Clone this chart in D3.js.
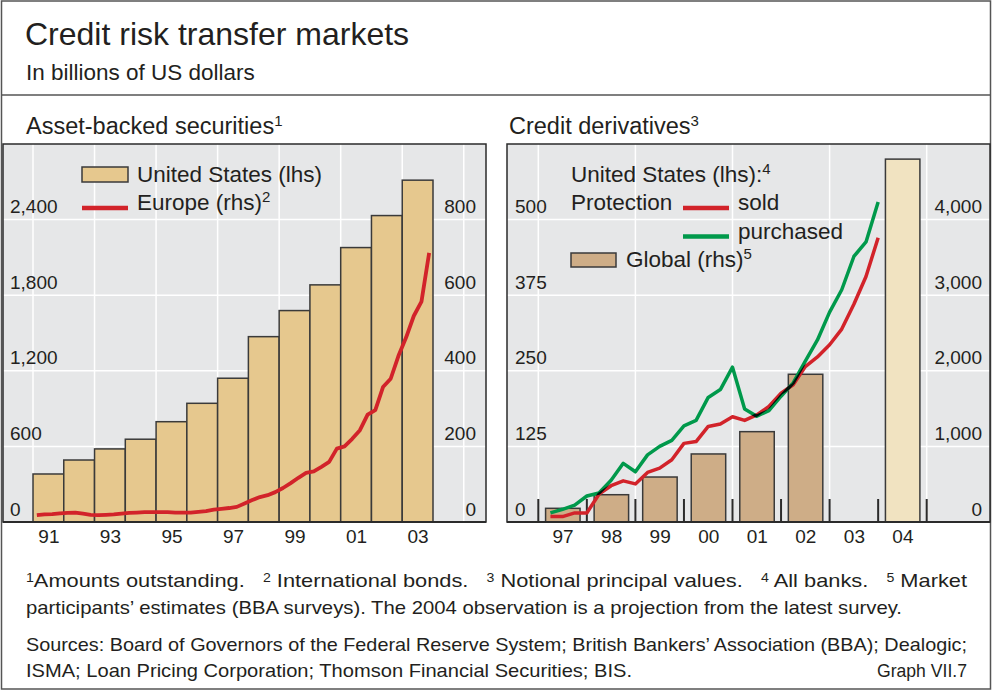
<!DOCTYPE html>
<html>
<head>
<meta charset="utf-8">
<script src="https://cdn.jsdelivr.net/npm/d3@7"></script>
<style>
  body { margin: 0; background: #fff; }
  svg text { font-family: "Liberation Sans", Arial, sans-serif; fill: #231f20; }
</style>
</head>
<body>
<script>
// ---- data (billions of US dollars) ----
const absYears = [1991, 1992, 1993, 1994, 1995, 1996, 1997, 1998, 1999, 2000, 2001, 2002, 2003]
const usAbs = [381, 492, 580, 657, 796, 942, 1141, 1471, 1678, 1882, 2178, 2432, 2713]

// Europe international bonds, quarterly from 1991 Q1 (rhs)
const europeStart = 1991
const europeAbs = [18, 20, 21, 23, 24, 25, 22, 19, 18, 19, 20, 22,
  24, 25, 26, 26, 26, 26, 25, 25, 25, 27, 29, 33,
  35, 37, 40, 49, 58, 66, 71, 79, 90, 103, 117, 130,
  134, 146, 159, 194, 200, 220, 243, 284, 296, 357, 379, 439,
  488, 545, 583, 712]

// credit derivatives, US protection, quarterly from 1997 Q1 (lhs)
const cdsStart = 1997
const cdsSold = [9, 9, 15, 15, 46, 60, 68, 63, 82, 89, 103, 130, 133, 158,
  162, 174, 168, 177, 191, 213, 227, 257, 273, 293, 319, 360, 406, 470]
const cdsPurchased = [15, 21, 28, 43, 48, 69, 97, 83, 111, 125, 135, 159, 168, 206,
  219, 256, 187, 175, 184, 208, 230, 266, 301, 347, 384, 439, 463, 529]

// global credit derivatives (rhs), 2004 is a projection
const globalYears = [1997, 1998, 1999, 2000, 2001, 2002, 2004]
const globalCds = [181, 361, 595, 900, 1195, 1954, 4800]

const absLeftTicks = [0, 600, 1200, 1800, 2400]
const absRightTicks = [0, 200, 400, 600, 800]
const absLabelYears = [1991, 1993, 1995, 1997, 1999, 2001, 2003]
const cdsLeftTicks = [0, 125, 250, 375, 500]
const cdsRightTicks = [0, 1000, 2000, 3000, 4000]
const cdsLabelYears = [1997, 1998, 1999, 2000, 2001, 2002, 2003, 2004]

const w = 993
const h = 691
const red = "#d2232a"
const green = "#00994b"
const grey = "#e6e7e8"
const dark = "#2b2b2b"
const tickSize = 19

const svg = d3.select("body").append("svg")
  .attr("width", w)
  .attr("height", h)

// outer frame and headings
svg.append("rect")
  .attr("x", 1.5).attr("y", 1)
  .attr("width", 989).attr("height", 688)
  .attr("fill", "none").attr("stroke", "#555").attr("stroke-width", 1.5)

svg.append("text").attr("x", 25).attr("y", 45)
  .style("font-size", "32px").text("Credit risk transfer markets")
svg.append("text").attr("x", 26).attr("y", 80)
  .style("font-size", "22.5px").text("In billions of US dollars")
svg.append("line")
  .attr("x1", 1.5).attr("x2", 990.5).attr("y1", 95).attr("y2", 95)
  .attr("stroke", "#555").attr("stroke-width", 1.5)

function panelTitle(x, label, note) {
  const t = svg.append("text").attr("x", x).attr("y", 134).style("font-size", "23.5px")
  t.append("tspan").text(label)
  t.append("tspan").attr("dy", -8).style("font-size", "15px").text(note)
}
panelTitle(26, "Asset-backed securities", "1")
panelTitle(509, "Credit derivatives", "3")

const plotTop = 144
const plotBottom = 522

function frame(x0, x1) {
  const g = svg.append("g")
  g.append("rect").attr("x", x0).attr("y", plotTop)
    .attr("width", x1 - x0).attr("height", plotBottom - plotTop)
    .attr("fill", grey)
  return g
}

function border(g, x0, x1) {
  g.append("rect").attr("x", x0).attr("y", plotTop)
    .attr("width", x1 - x0).attr("height", plotBottom - plotTop)
    .attr("fill", "none").attr("stroke", dark).attr("stroke-width", 1.5)
  g.append("line").attr("x1", x0).attr("x2", x1).attr("y1", plotBottom).attr("y2", plotBottom)
    .attr("stroke", dark).attr("stroke-width", 2.2)
}

function styleAxis(sel, size) {
  sel.select(".domain").remove()
  sel.selectAll("text").style("font-size", size + "px").attr("fill", "#231f20")
    .style("font-family", "'Liberation Sans', Arial, sans-serif")
}

// ---------------- left panel: asset-backed securities ----------------
const L0 = 3, L1 = 486
const xA = d3.scaleLinear().domain([1991, 2004]).range([33, 433])
const yAL = d3.scaleLinear().domain([0, 3000]).range([plotBottom, plotTop])
const yAR = d3.scaleLinear().domain([0, 1000]).range([plotBottom, plotTop])

const gA = frame(L0, L1)

gA.selectAll(".vgrid").data([1991, 1993, 1995, 1997, 1999, 2001, 2003, 2005]).enter()
  .append("line")
  .attr("x1", d => xA(d)).attr("x2", d => xA(d))
  .attr("y1", plotTop).attr("y2", plotBottom)
  .attr("stroke", "#fff").attr("stroke-width", 1.5)

gA.selectAll(".hgrid").data(absLeftTicks.slice(1)).enter()
  .append("line")
  .attr("x1", L0).attr("x2", L1)
  .attr("y1", d => yAL(d)).attr("y2", d => yAL(d))
  .attr("stroke", "#fff").attr("stroke-width", 1.5)

gA.selectAll(".bar").data(absYears).enter()
  .append("rect")
  .attr("x", d => xA(d))
  .attr("width", d => xA(d + 1) - xA(d))
  .attr("y", (d, i) => yAL(usAbs[i]))
  .attr("height", (d, i) => plotBottom - yAL(usAbs[i]))
  .attr("fill", "#e6c88e")
  .attr("stroke", "#3a3a3a")
  .attr("stroke-width", 1.5)

const europeLine = d3.line()
  .x((d, i) => xA(europeStart + i * 0.25 + 0.125))
  .y(d => yAR(d))

gA.append("path")
  .datum(europeAbs)
  .attr("d", europeLine)
  .attr("fill", "none")
  .attr("stroke", red)
  .attr("stroke-width", 3.8)
  .attr("stroke-linejoin", "round")

border(gA, L0, L1)

const aLeft = svg.append("g").attr("transform", "translate(10,0)")
  .call(d3.axisRight(yAL).tickValues(absLeftTicks).tickSize(0).tickPadding(0)
    .tickFormat(d3.format(",")))
styleAxis(aLeft, tickSize)
aLeft.selectAll("text").attr("dy", -7).attr("text-anchor", "start")

const aRight = svg.append("g").attr("transform", "translate(476,0)")
  .call(d3.axisLeft(yAR).tickValues(absRightTicks).tickSize(0).tickPadding(0))
styleAxis(aRight, tickSize)
aRight.selectAll("text").attr("dy", -7).attr("text-anchor", "end")

const aBottom = svg.append("g").attr("transform", "translate(0," + plotBottom + ")")
  .call(d3.axisBottom(xA).tickValues(absLabelYears.map(d => d + 0.5)).tickSize(0).tickPadding(8)
    .tickFormat(d => String(Math.floor(d) % 100).padStart(2, "0")))
styleAxis(aBottom, tickSize)

// legend
svg.append("rect").attr("x", 82).attr("y", 167).attr("width", 46).attr("height", 15)
  .attr("fill", "#e6c88e").attr("stroke", "#3a3a3a").attr("stroke-width", 1.5)
svg.append("text").attr("x", 137).attr("y", 182).style("font-size", "22.5px")
  .text("United States (lhs)")
svg.append("line").attr("x1", 82).attr("x2", 128).attr("y1", 208).attr("y2", 208)
  .attr("stroke", red).attr("stroke-width", 4.5)
const eu = svg.append("text").attr("x", 137).attr("y", 210).style("font-size", "22.5px")
eu.append("tspan").text("Europe (rhs)")
eu.append("tspan").attr("dy", -8).style("font-size", "15px").text("2")

// ---------------- right panel: credit derivatives ----------------
const R0 = 507, R1 = 990
const xC = d3.scaleLinear().domain([1997, 2005]).range([538.3, 926.7])
const yCL = d3.scaleLinear().domain([0, 625]).range([plotBottom, plotTop])
const yCR = d3.scaleLinear().domain([0, 5000]).range([plotBottom, plotTop])

const gC = frame(R0, R1)

gC.selectAll(".vgrid").data([1997, 1999, 2001, 2003, 2005]).enter()
  .append("line")
  .attr("x1", d => xC(d)).attr("x2", d => xC(d))
  .attr("y1", plotTop).attr("y2", plotBottom)
  .attr("stroke", "#fff").attr("stroke-width", 1.5)

gC.selectAll(".hgrid").data(cdsLeftTicks.slice(1)).enter()
  .append("line")
  .attr("x1", R0).attr("x2", R1)
  .attr("y1", d => yCL(d)).attr("y2", d => yCL(d))
  .attr("stroke", "#fff").attr("stroke-width", 1.5)

gC.selectAll(".tick-mark").data(d3.range(1997, 2006)).enter()
  .append("line")
  .attr("x1", d => xC(d)).attr("x2", d => xC(d))
  .attr("y1", plotBottom - 23).attr("y2", plotBottom)
  .attr("stroke", dark).attr("stroke-width", 2)

gC.selectAll(".bar").data(globalYears).enter()
  .append("rect")
  .attr("x", d => xC(d + 0.15))
  .attr("width", d => xC(d + 0.86) - xC(d + 0.15))
  .attr("y", (d, i) => yCR(globalCds[i]))
  .attr("height", (d, i) => plotBottom - yCR(globalCds[i]))
  .attr("fill", d => d == 2004 ? "#f1e3c1" : "#cead87")
  .attr("stroke", "#3a3a3a")
  .attr("stroke-width", 1.5)

const cdsLine = d3.line()
  .x((d, i) => xC(cdsStart + i * 0.25 + 0.25))
  .y(d => yCL(d))

const lines = gC.append("g").style("isolation", "isolate")
lines.append("path")
  .datum(cdsSold)
  .attr("d", cdsLine)
  .attr("fill", "none")
  .attr("stroke", red)
  .attr("stroke-width", 3.5)
  .attr("stroke-linejoin", "round")
lines.append("path")
  .datum(cdsPurchased)
  .attr("d", cdsLine)
  .attr("fill", "none")
  .attr("stroke", green)
  .attr("stroke-width", 3.5)
  .attr("stroke-linejoin", "round")
  .style("mix-blend-mode", "multiply")

border(gC, R0, R1)

const cLeft = svg.append("g").attr("transform", "translate(515,0)")
  .call(d3.axisRight(yCL).tickValues(cdsLeftTicks).tickSize(0).tickPadding(0))
styleAxis(cLeft, tickSize)
cLeft.selectAll("text").attr("dy", -7).attr("text-anchor", "start")

const cRight = svg.append("g").attr("transform", "translate(982,0)")
  .call(d3.axisLeft(yCR).tickValues(cdsRightTicks).tickSize(0).tickPadding(0)
    .tickFormat(d3.format(",")))
styleAxis(cRight, tickSize)
cRight.selectAll("text").attr("dy", -7).attr("text-anchor", "end")

const cBottom = svg.append("g").attr("transform", "translate(0," + plotBottom + ")")
  .call(d3.axisBottom(xC).tickValues(cdsLabelYears.map(d => d + 0.5)).tickSize(0).tickPadding(8)
    .tickFormat(d => String(Math.floor(d) % 100).padStart(2, "0")))
styleAxis(cBottom, tickSize)

// legend
const us = svg.append("text").attr("x", 571).attr("y", 182).style("font-size", "22.5px")
us.append("tspan").text("United States (lhs):")
us.append("tspan").attr("dy", -8).style("font-size", "15px").text("4")
svg.append("text").attr("x", 571).attr("y", 210).style("font-size", "22.5px").text("Protection")
svg.append("line").attr("x1", 683).attr("x2", 729).attr("y1", 208).attr("y2", 208)
  .attr("stroke", red).attr("stroke-width", 4.5)
svg.append("text").attr("x", 738).attr("y", 210).style("font-size", "22.5px").text("sold")
svg.append("line").attr("x1", 683).attr("x2", 729).attr("y1", 236.5).attr("y2", 236.5)
  .attr("stroke", green).attr("stroke-width", 4.5)
svg.append("text").attr("x", 738).attr("y", 239).style("font-size", "22.5px").text("purchased")
svg.append("rect").attr("x", 571).attr("y", 253).attr("width", 45).attr("height", 14)
  .attr("fill", "#cead87").attr("stroke", "#3a3a3a").attr("stroke-width", 1.5)
const gl = svg.append("text").attr("x", 626).attr("y", 267).style("font-size", "22.5px")
gl.append("tspan").text("Global (rhs)")
gl.append("tspan").attr("dy", -8).style("font-size", "15px").text("5")

// ---------------- footnotes ----------------
function note(y, parts, len, anchor, x) {
  const t = svg.append("text")
    .attr("x", x).attr("y", y)
    .attr("text-anchor", anchor || "start")
    .attr("textLength", len)
    .attr("lengthAdjust", "spacingAndGlyphs")
    .style("font-family", "'Liberation Sans Narrow', 'Liberation Sans', Arial, sans-serif")
    .style("font-size", "18.5px")
    .style("white-space", "pre")
  parts.forEach(p => {
    if (p[0] == "^") {
      t.append("tspan").attr("baseline-shift", "5").style("font-size", "12px").text(p.slice(1))
    } else {
      t.append("tspan").text(p)
    }
  })
}

note(587, ["^1", "Amounts outstanding.   ", "^2", " International bonds.   ", "^3",
  " Notional principal values.   ", "^4", " All banks.   ", "^5", " Market"], 941, "start", 26)
note(614, ["participants\u2019 estimates (BBA surveys). The 2004 observation is a projection from the latest survey."],
  876, "start", 26)
note(651, ["Sources: Board of Governors of the Federal Reserve System; British Bankers\u2019 Association (BBA); Dealogic;"],
  941, "start", 26)
note(677, ["ISMA; Loan Pricing Corporation; Thomson Financial Securities; BIS."], 606, "start", 26)
note(677, ["Graph VII.7"], 90, "end", 967)
</script>
</body>
</html>
